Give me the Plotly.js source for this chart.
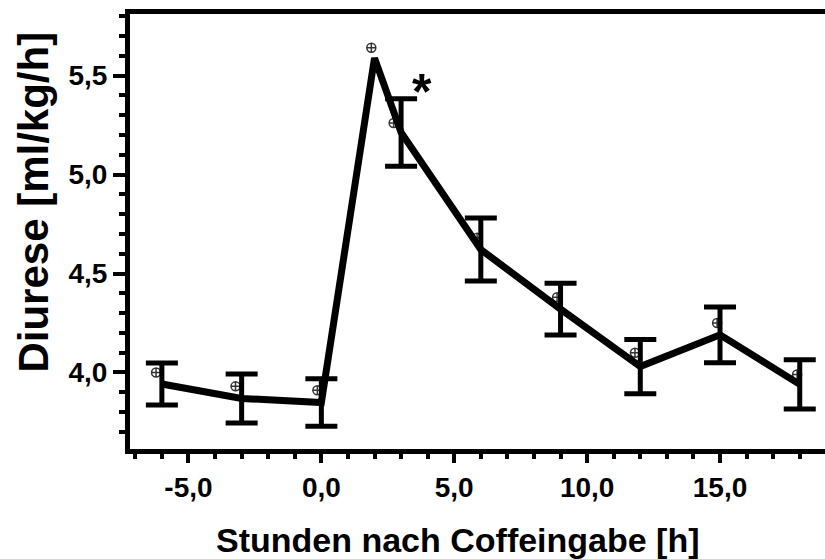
<!DOCTYPE html>
<html>
<head>
<meta charset="utf-8">
<script src="https://cdn.plot.ly/plotly-3.0.1.min.js"></script>
<style>html,body{margin:0;padding:0;background:#fff;}#chart{width:825px;height:559px;}</style>
</head>
<body>
<div id="chart"></div>
<script>
// Hours after caffeine intake
var hours = [-6, -3, 0, 2, 3, 6, 9, 12, 15, 18];
// Mean diuresis [ml/kg/h]
var diurese = [3.942, 3.869, 3.848, 5.588, 5.212, 4.621, 4.320, 4.030, 4.190, 3.940];
// Error (half bar length); no bar visible at the peak
var fehler = [0.106, 0.124, 0.120, null, 0.170, 0.159, 0.131, 0.137, 0.141, 0.124];
// Small circle-cross markers (slightly offset points)
var markerHours = [-6.22, -3.23, -0.15, 1.88, 2.72, 5.86, 8.87, 11.8, 14.89, 17.9];
var markerValues = [4.00, 3.93, 3.91, 5.64, 5.26, 4.68, 4.38, 4.10, 4.25, 3.99];
var yTickVals = [4.0, 4.5, 5.0, 5.5];
var yTickText = ['4,0', '4,5', '5,0', '5,5'];
var xTickVals = [-5, 0, 5, 10, 15];
var xTickText = ['-5,0', '0,0', '5,0', '10,0', '15,0'];

var font = "'Liberation Sans', Arial, sans-serif";
function b(arr){ return arr.map(function(t){ return '<b>' + t + '</b>'; }); }

// points that carry an error bar
var ebX = [], ebY = [], ebE = [];
for (var i = 0; i < hours.length; i++) {
  if (fehler[i] !== null) { ebX.push(hours[i]); ebY.push(diurese[i]); ebE.push(fehler[i]); }
}

var traces = [
  {
    x: markerHours, y: markerValues, type: 'scatter', mode: 'markers',
    marker: {symbol: 'circle-cross-open', size: 9, color: '#333', line: {width: 1.5, color: '#333'}},
    hoverinfo: 'skip', showlegend: false
  },
  {
    x: ebX, y: ebY, type: 'scatter', mode: 'none',
    error_y: {type: 'data', array: ebE, visible: true, color: '#000', thickness: 5, width: 16},
    hoverinfo: 'skip', showlegend: false
  },
  {
    x: hours, y: diurese, type: 'scatter', mode: 'lines',
    line: {color: '#000', width: 7},
    showlegend: false
  }
];

var L = 129.5, T = 14, B = 110, W = 825, H = 559;
var pw = W - L, ph = H - T - B;

var layout = {
  width: W, height: H,
  margin: {l: L, r: 0, t: T, b: B},
  paper_bgcolor: '#fff', plot_bgcolor: '#fff',
  font: {family: font, color: '#000'},
  xaxis: {
    range: [-7.2, 18.95], showgrid: false, zeroline: false,
    showline: true, linecolor: '#000', linewidth: 5, mirror: true,
    tickmode: 'array', tickvals: xTickVals, ticktext: b(xTickText),
    ticks: 'outside', ticklen: 9, tickwidth: 4, tickcolor: '#000',
    tickfont: {family: font, size: 28, color: '#000'},
    minor: {dtick: 1, tick0: 0, ticks: 'outside', ticklen: 5, tickwidth: 4, tickcolor: '#000', showgrid: false}
  },
  yaxis: {
    range: [3.6136, 5.8106], showgrid: false, zeroline: false,
    showline: true, linecolor: '#000', linewidth: 5, mirror: false,
    tickmode: 'array', tickvals: yTickVals, ticktext: b(yTickText),
    ticks: 'outside', ticklen: 12, tickwidth: 4, tickcolor: '#000',
    tickfont: {family: font, size: 28, color: '#000'},
    minor: {dtick: 0.1, tick0: 0, ticks: 'outside', ticklen: 6, tickwidth: 4, tickcolor: '#000', showgrid: false}
  },
  annotations: [
    {text: '<b>*</b>', x: 3.8, y: 5.45, xref: 'x', yref: 'y', showarrow: false,
     font: {family: font, size: 50, color: '#000'}, xanchor: 'center', yanchor: 'middle', yshift: -7},
    {text: '<b>Stunden nach Coffeingabe [h]</b>', xref: 'paper', yref: 'paper', showarrow: false,
     x: (458 - L) / pw, y: (H - B - 540) / ph, xanchor: 'center', yanchor: 'middle',
     font: {family: font, size: 34, color: '#000'}},
    {text: '<b>Diurese [ml/kg/h]</b>', textangle: -90, xref: 'paper', yref: 'paper', showarrow: false,
     x: (32 - L) / pw, y: (H - B - 202) / ph, xanchor: 'center', yanchor: 'middle',
     font: {family: font, size: 42, color: '#000'}}
  ]
};

Plotly.newPlot('chart', traces, layout, {displayModeBar: false, staticPlot: true});
</script>
</body>
</html>
